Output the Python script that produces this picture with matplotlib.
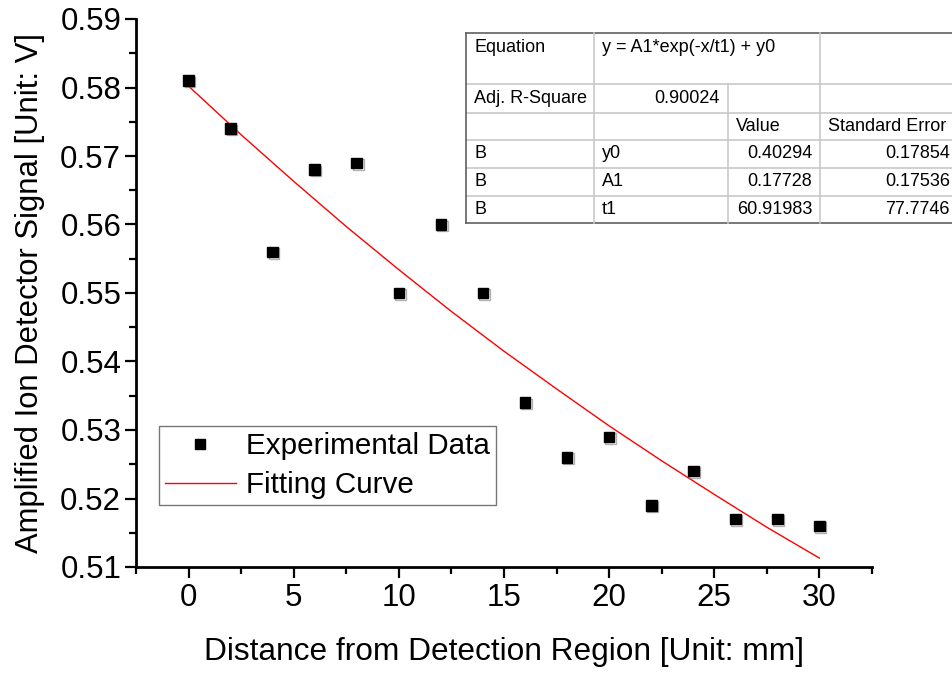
import matplotlib
matplotlib.use("Agg")
import matplotlib.pyplot as plt
import matplotlib.patheffects as pe
from matplotlib.lines import Line2D
from matplotlib.ticker import MultipleLocator

plt.rcParams['font.family'] = ['Liberation Sans', 'DejaVu Sans']

# measured points
distance = [0, 2, 4, 6, 8, 10, 12, 14, 16, 18, 20, 22, 24, 26, 28, 30]
signal = [0.581, 0.574, 0.556, 0.568, 0.569, 0.550, 0.560, 0.550,
          0.534, 0.526, 0.529, 0.519, 0.524, 0.517, 0.517, 0.516]

# fitted curve
fit_x = [0, 2.5, 5, 7.5, 10, 12.5, 15, 17.5, 20, 22.5, 25, 27.5, 30]
fit_y = [0.5802, 0.5731, 0.5663, 0.5597, 0.5534, 0.5473, 0.5415,
         0.5360, 0.5306, 0.5255, 0.5206, 0.5158, 0.5113]

# fit report table
table_rows = [
    ["Equation", "y = A1*exp(-x/t1) + y0", "", ""],
    ["Adj. R-Square", "0.90024", "", ""],
    ["", "", "Value", "Standard Error"],
    ["B", "y0", "0.40294", "0.17854"],
    ["B", "A1", "0.17728", "0.17536"],
    ["B", "t1", "60.91983", "77.7746"],
]

W, H = 952, 675
fig = plt.figure(figsize=(W / 100, H / 100), dpi=100)
ax = fig.add_axes([136 / W, 1 - 567 / H, 736 / W, 548 / H])

ax.plot(fit_x, fit_y, color='red', lw=1.0, label='Fitting Curve', zorder=2)
ax.plot(distance, signal, ls='none', marker='s', ms=7.7, color='black',
        label='Experimental Data', zorder=3,
        path_effects=[pe.SimpleLineShadow(offset=(1, -1), shadow_color='gray', alpha=0.6),
                      pe.Normal()])

ax.set_xlim(-2.5, 32.5)
ax.set_ylim(0.51, 0.59)
ax.xaxis.set_major_locator(MultipleLocator(5))
ax.xaxis.set_minor_locator(MultipleLocator(2.5))
ax.yaxis.set_minor_locator(MultipleLocator(0.005))
ax.set_yticks([0.51, 0.52, 0.53, 0.54, 0.55, 0.56, 0.57, 0.58, 0.59])
ax.set_yticklabels(['0.51', '0.52', '0.53', '0.54', '0.55', '0.56', '0.57', '0.58', '0.59'])

for s in ['top', 'right']:
    ax.spines[s].set_visible(False)
for s in ['left', 'bottom']:
    ax.spines[s].set_linewidth(2)
ax.tick_params(which='major', direction='out', length=7.7, width=1.6, labelsize=22.5)
ax.tick_params(which='minor', direction='out', length=4.8, width=1.6)
ax.tick_params(axis='y', pad=3)
ax.tick_params(axis='x', pad=4)

ax.set_xlabel("Distance from Detection Region [Unit: mm]", fontsize=22.8, labelpad=17)
ax.set_ylabel("Amplified Ion Detector Signal [Unit: V]", fontsize=22.3, labelpad=11)

handles = [Line2D([], [], ls='none', marker='s', ms=7.7, color='black'),
           Line2D([], [], color='red', lw=1.0)]
leg = ax.legend(handles, ['Experimental Data', 'Fitting Curve'],
                loc='lower left', bbox_to_anchor=(0.031, 0.113), borderaxespad=0,
                fontsize=21.3, frameon=True, fancybox=False, handlelength=2.4,
                handletextpad=0.35, borderpad=0.2, labelspacing=0.38)
leg.get_frame().set_edgecolor('#555555')
leg.get_frame().set_linewidth(1.0)

# table drawn in pixel positions of the figure
row_y = [33, 84, 113, 140, 168, 196, 223]
col_x = [466, 594, 728, 820, 958]


def fx(px):
    return px / W


def fy(py):
    return 1 - py / H


inner = '#c8c8c8'
outer = '#606060'
# horizontal lines
for i, y in enumerate(row_y):
    c = outer if i in (0, len(row_y) - 1) else inner
    fig.add_artist(Line2D([fx(col_x[0]), fx(col_x[-1])], [fy(y), fy(y)], color=c, lw=1.2))
# vertical lines
fig.add_artist(Line2D([fx(col_x[0]), fx(col_x[0])], [fy(row_y[0]), fy(row_y[-1])], color=outer, lw=1.2))
for j in (1, 3):
    fig.add_artist(Line2D([fx(col_x[j]), fx(col_x[j])], [fy(row_y[0]), fy(row_y[-1])], color=inner, lw=1.2))
fig.add_artist(Line2D([fx(col_x[2]), fx(col_x[2])], [fy(row_y[1]), fy(row_y[-1])], color=inner, lw=1.2))

for i, row in enumerate(table_rows):
    for j, txt in enumerate(row):
        if not txt:
            continue
        numeric = txt[0].isdigit()
        if i == 0:
            yy = row_y[0] + 14
        else:
            yy = (row_y[i] + row_y[i + 1]) / 2
        if numeric:
            fig.text(fx(col_x[j + 1] - 8), fy(yy), txt, ha='right', va='center', fontsize=13)
        else:
            fig.text(fx(col_x[j] + 8), fy(yy), txt, ha='left', va='center', fontsize=13)

fig.savefig("out.png", dpi=100)
